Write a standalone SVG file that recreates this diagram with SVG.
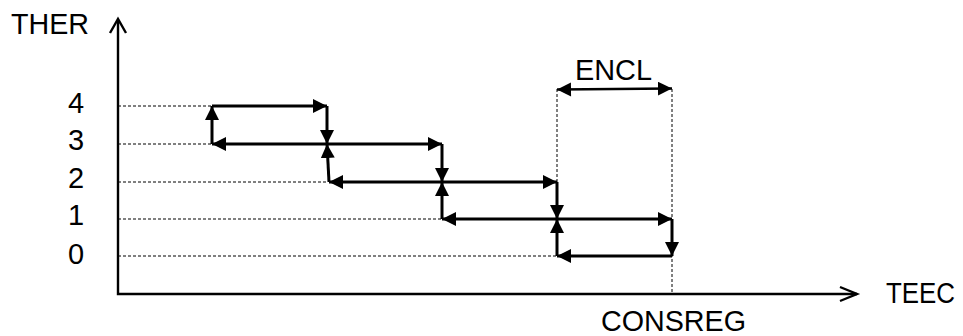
<svg xmlns="http://www.w3.org/2000/svg" width="963" height="336" viewBox="0 0 963 336">
<style>
text{font-family:"Liberation Sans",Arial,sans-serif;font-size:29px;fill:#000}
.ax{stroke:#000;stroke-width:2.4;fill:none}
.ar{stroke:#000;stroke-width:3;fill:none;marker-end:url(#ah)}
.dim{stroke:#000;stroke-width:2.6;fill:none;marker-start:url(#ahs);marker-end:url(#ah)}
.ds{stroke:#000;stroke-width:1;stroke-dasharray:3,2;fill:none}
</style>
<defs>
<marker id="ah" markerUnits="userSpaceOnUse" markerWidth="15" markerHeight="15" refX="14" refY="7" orient="auto"><path d="M0,0 L14,7 L0,14 z" fill="#000"/></marker>
<marker id="ahs" markerUnits="userSpaceOnUse" markerWidth="15" markerHeight="15" refX="0" refY="7" orient="auto"><path d="M14,0 L0,7 L14,14 z" fill="#000"/></marker>
</defs>
<g id="axes">
<path class="ax" d="M118,20 V294 H857"/>
<path class="ax" stroke-width="3" d="M110,33 L118,19 L126,33"/>
<path class="ax" d="M840,287 L857,294 L840,301"/>
</g>
<g id="labels">
<text x="11" y="34" textLength="78" lengthAdjust="spacingAndGlyphs">THER</text>
<text x="68" y="113">4</text>
<text x="68" y="150">3</text>
<text x="68" y="188">2</text>
<text x="68" y="225">1</text>
<text x="68" y="264">0</text>
<text x="575" y="80" textLength="77" lengthAdjust="spacingAndGlyphs">ENCL</text>
<text x="886" y="303" textLength="69" lengthAdjust="spacingAndGlyphs">TEEC</text>
<text x="601" y="331" textLength="145" lengthAdjust="spacingAndGlyphs">CONSREG</text>
</g>
<g id="guides">
<path class="ds" d="M118,106 H212 M118,144 H212 M118,182 H327 M118,219 H442 M118,256 H557"/>
<path class="ds" d="M557,89 V182 M672,89 V294"/>
</g>
<g id="connectors">
<path class="ar" d="M212,144 V106"/>
<path class="ar" d="M212,106 H327"/>
<path class="ar" d="M327,106 V144"/>
<path class="ar" d="M327,144 H212"/>
<path class="ar" d="M329,182 L327,144"/>
<path class="ar" d="M327,144 H442"/>
<path class="ar" d="M442,144 V182"/>
<path class="ar" d="M442,182 H329"/>
<path class="ar" d="M442,219 V182"/>
<path class="ar" d="M442,182 H557"/>
<path class="ar" d="M557,182 V219"/>
<path class="ar" d="M557,219 H442"/>
<path class="ar" d="M557,256 V219"/>
<path class="ar" d="M557,219 H672"/>
<path class="ar" d="M672,219 V256"/>
<path class="ar" d="M672,256 H557"/>
<path class="dim" d="M557,89.5 L672,88.5"/>
</g>
</svg>
